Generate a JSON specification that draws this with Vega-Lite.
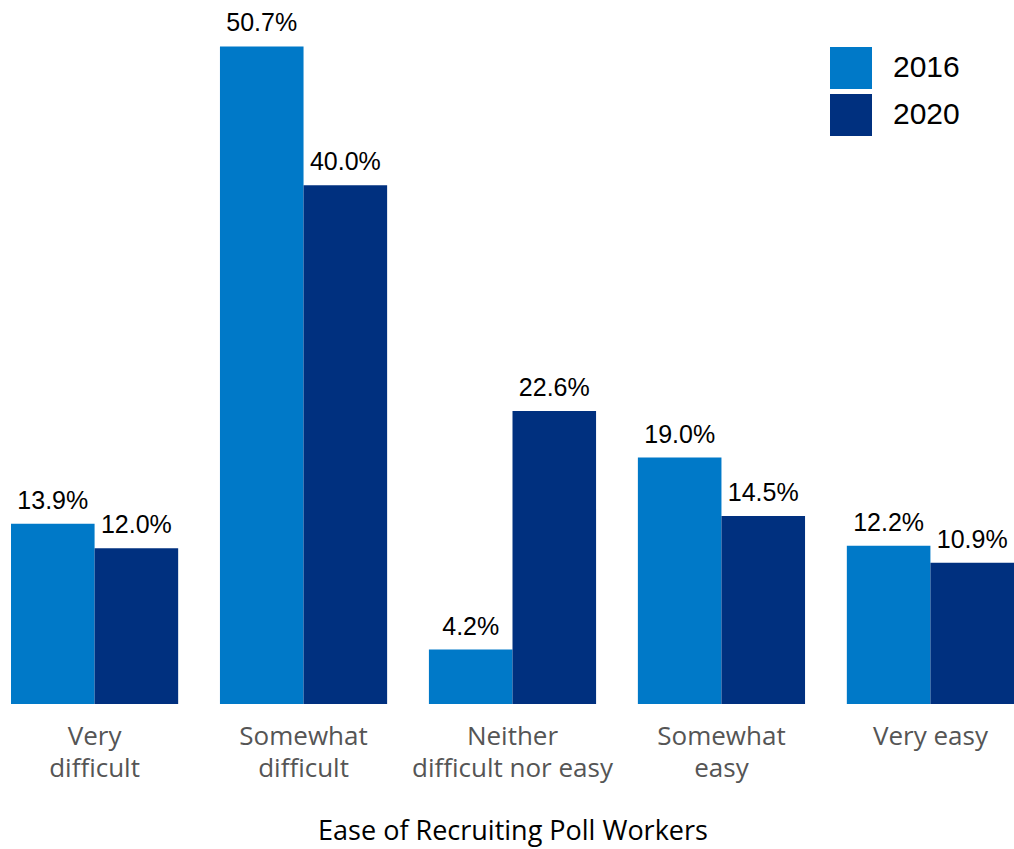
{
  "$schema": "https://vega.github.io/schema/vega-lite/v6.json",
  "autosize": "none",
  "width": 1003,
  "height": 704,
  "padding": {"left": 11, "top": 0, "right": 0, "bottom": 145},
  "background": "white",
  "config": {"view": {"stroke": null}},
  "data": {"values": [
    {"cat": "Very difficult", "year": "2016", "pct": 13.9},
    {"cat": "Very difficult", "year": "2020", "pct": 12.0},
    {"cat": "Somewhat difficult", "year": "2016", "pct": 50.7},
    {"cat": "Somewhat difficult", "year": "2020", "pct": 40.0},
    {"cat": "Neither difficult nor easy", "year": "2016", "pct": 4.2},
    {"cat": "Neither difficult nor easy", "year": "2020", "pct": 22.6},
    {"cat": "Somewhat easy", "year": "2016", "pct": 19.0},
    {"cat": "Somewhat easy", "year": "2020", "pct": 14.5},
    {"cat": "Very easy", "year": "2016", "pct": 12.2},
    {"cat": "Very easy", "year": "2020", "pct": 10.9}
  ]},
  "encoding": {
    "x": {
      "field": "cat", "type": "nominal", "sort": null,
      "scale": {"paddingInner": 0.2, "paddingOuter": 0},
      "axis": {
        "title": "Ease of Recruiting Poll Workers",
        "titleFont": "Open Sans", "titleFontSize": 27, "titleFontWeight": "normal", "titleColor": "#000000",
        "titlePadding": 37,
        "labelFont": "Open Sans", "labelFontSize": 26, "labelColor": "#555555",
        "labelLineHeight": 32.5, "labelPadding": 19, "labelAngle": 0, "labelLimit": 0,
        "domain": false, "ticks": false,
        "labelExpr": "datum.value == 'Very difficult' ? ['Very', 'difficult'] : datum.value == 'Somewhat difficult' ? ['Somewhat', 'difficult'] : datum.value == 'Neither difficult nor easy' ? ['Neither', 'difficult nor easy'] : datum.value == 'Somewhat easy' ? ['Somewhat', 'easy'] : datum.value"
      }
    },
    "xOffset": {"field": "year", "type": "nominal", "scale": {"paddingInner": 0, "paddingOuter": 0}},
    "y": {
      "field": "pct", "type": "quantitative",
      "scale": {"domain": [0, 54.28], "nice": false},
      "axis": null
    }
  },
  "layer": [
    {
      "mark": {"type": "bar"},
      "encoding": {
        "color": {
          "field": "year", "type": "nominal",
          "scale": {"domain": ["2016", "2020"], "range": ["#0079C8", "#00307F"]},
          "legend": {
            "title": null, "orient": "none", "legendX": 819, "legendY": 47,
            "padding": 0,
            "symbolType": "square", "symbolSize": 1764, "symbolStrokeWidth": 0,
            "labelFont": "Liberation Sans", "labelFontSize": 30, "labelColor": "#000000",
            "labelOffset": 21, "rowPadding": 5
          }
        }
      }
    },
    {
      "mark": {"type": "text", "baseline": "alphabetic", "dy": -15, "font": "Liberation Sans", "fontSize": 25, "color": "#000000",
        "text": {"expr": "format(datum.pct, '.1f') + '%'"}},
      "encoding": {}
    }
  ]
}
